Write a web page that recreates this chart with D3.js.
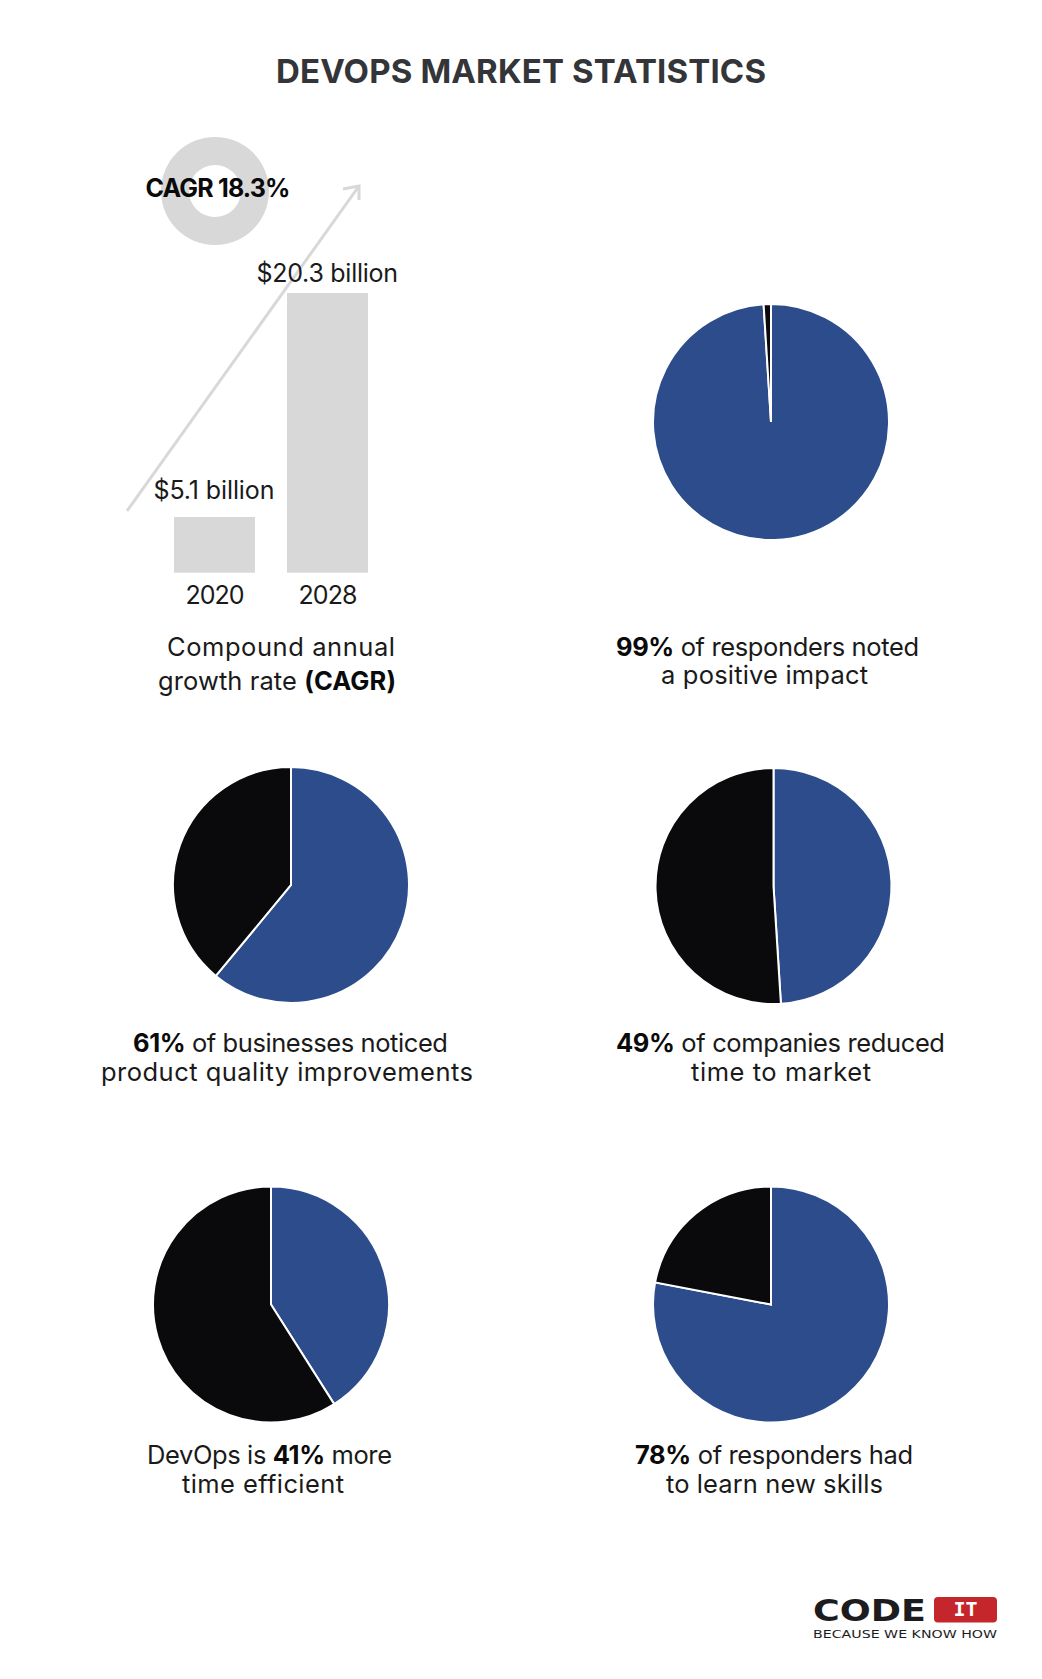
<!DOCTYPE html>
<html>
<head>
<meta charset="utf-8">
<script src="https://cdn.jsdelivr.net/npm/d3@7"></script>
<style>
  html, body { margin: 0; background: #fff; }
  text { font-family: Inter, "Open Sans", sans-serif; }
</style>
</head>
<body>
<div id="svg-container"></div>
<script>
// data
const titleText = "DEVOPS MARKET STATISTICS";
const years = ["2020", "2028"];
const marketValues = [5.1, 20.3];
const marketLabels = ["$5.1 billion", "$20.3 billion"];
const cagrLabel = "CAGR 18.3%";
const pieShares = [99, 61, 49, 41, 78];
const captionBold = ["99%", "61%", "49%", "41%", "78%"];
const pieColors = ["#2c4c8b", "#0a0a0c"];

// layout
const width = 1042, height = 1679;
const pieRadius = 118;
const pieCenters = [[771, 422], [291, 885], [773.5, 886], [271, 1304.5], [771, 1304.5]];

// caption lines: parts are [text, bold], x0-x1 = left/right edge, y = baseline
const captionLines = [
  { parts: [["Compound annual", 0]], x0: 167, x1: 395, y: 656 },
  { parts: [["growth rate ", 0], ["(CAGR)", 1]], x0: 158, x1: 396, y: 690 },
  { parts: [[captionBold[0], 1], [" of responders noted", 0]], x0: 616, x1: 919, y: 656 },
  { parts: [["a positive impact", 0]], x0: 661, x1: 868, y: 684 },
  { parts: [[captionBold[1], 1], [" of businesses noticed", 0]], x0: 133, x1: 448, y: 1052 },
  { parts: [["product quality improvements", 0]], x0: 101, x1: 473, y: 1081 },
  { parts: [[captionBold[2], 1], [" of companies reduced", 0]], x0: 616, x1: 945, y: 1052 },
  { parts: [["time to market", 0]], x0: 691, x1: 871, y: 1081 },
  { parts: [["DevOps is ", 0], [captionBold[3], 1], [" more", 0]], x0: 147, x1: 392, y: 1464 },
  { parts: [["time efficient", 0]], x0: 182, x1: 344, y: 1493 },
  { parts: [[captionBold[4], 1], [" of responders had", 0]], x0: 635, x1: 913, y: 1464 },
  { parts: [["to learn new skills", 0]], x0: 666, x1: 883, y: 1493 },
];

const svg = d3.select("#svg-container").append("svg")
  .attr("width", width)
  .attr("height", height)
  .style("display", "block");

// squeeze or spread a text so it runs from x0 to x1 like in the picture
function fitText(sel, target) {
  const w = sel.node().getComputedTextLength();
  const n = sel.text().length;
  sel.attr("letter-spacing", (target - w) / (n - 1));
}

// title
svg.append("text")
  .attr("x", 276)
  .attr("y", 82.5)
  .attr("font-size", 33)
  .attr("font-weight", 700)
  .attr("fill", "#333538")
  .text(titleText)
  .call(fitText, 490);

// bars
const xScale = d3.scaleBand().domain(years).range([174, 368]).paddingInner(0.283);
// the bars in the picture don't start at zero, 5.1 is drawn too short
const yScale = d3.scaleLinear().domain([1.32, 20.3]).range([572.7, 293]);

svg.selectAll(".bar")
  .data(years)
  .join("rect")
  .attr("class", "bar")
  .attr("x", (d) => xScale(d))
  .attr("y", (d, i) => yScale(marketValues[i]))
  .attr("width", xScale.bandwidth())
  .attr("height", (d, i) => yScale.range()[0] - yScale(marketValues[i]))
  .attr("fill", "#d8d8d8");

// year labels
const xAxis = d3.axisBottom(xScale).tickSize(0).tickPadding(0);
const xG = svg.append("g")
  .attr("transform", "translate(0, 603.5)")
  .call(xAxis);
xG.select(".domain").remove();
xG.selectAll("text")
  .attr("y", 0)
  .attr("dy", 0)
  .attr("font-size", 25)
  .attr("fill", "#1a1a1a")
  .attr("font-family", "Inter")
  .each(function () { d3.select(this).call(fitText, 59); });

// donut behind the cagr label
const donutArc = d3.arc().innerRadius(26).outerRadius(54).startAngle(0).endAngle(2 * Math.PI);
svg.append("path")
  .attr("transform", "translate(215, 191)")
  .attr("d", donutArc())
  .attr("fill", "#d8d8d8");

// arrow
const arrowLine = d3.line();
svg.append("path")
  .attr("d", arrowLine([[127, 511], [359, 186]]))
  .attr("fill", "none")
  .attr("stroke", "#d8d8d8")
  .attr("stroke-width", 3);
svg.append("path")
  .attr("d", arrowLine([[343, 189], [359, 186], [359, 200]]))
  .attr("fill", "none")
  .attr("stroke", "#d8d8d8")
  .attr("stroke-width", 3);

// value labels
const labelPos = [[153.5, 274.5, 499], [256.5, 398, 281.5]];
marketLabels.forEach((d, i) => {
  svg.append("text")
    .attr("x", labelPos[i][0])
    .attr("y", labelPos[i][2])
    .attr("font-size", 25)
    .attr("fill", "#1a1a1a")
    .text(d)
    .call(fitText, labelPos[i][1] - labelPos[i][0]);
});

svg.append("text")
  .attr("x", 145.5)
  .attr("y", 197)
  .attr("font-size", 25)
  .attr("font-weight", 700)
  .attr("fill", "#0a0a0a")
  .text(cagrLabel)
  .call(fitText, 145);

// pies
const pie = d3.pie().sort(null);
const arc = d3.arc().innerRadius(0).outerRadius(pieRadius);

pieShares.forEach((share, i) => {
  svg.append("g")
    .attr("transform", `translate(${pieCenters[i][0]}, ${pieCenters[i][1]})`)
    .selectAll("path")
    .data(pie([share, 100 - share]))
    .join("path")
    .attr("d", arc)
    .attr("fill", (d, j) => pieColors[j])
    .attr("stroke", "#fff")
    .attr("stroke-width", 2);
});

// captions
captionLines.forEach((line) => {
  const t = svg.append("text")
    .attr("x", line.x0)
    .attr("y", line.y)
    .attr("font-size", 25.5)
    .attr("fill", "#1a1a1a");
  line.parts.forEach((p) => {
    t.append("tspan")
      .attr("font-weight", p[1] ? 700 : 400)
      .attr("fill", p[1] ? "#0a0a0a" : "#1a1a1a")
      .text(p[0]);
  });
  fitText(t, line.x1 - line.x0);
});

// logo
const logo = svg.append("g");
logo.append("text")
  .attr("x", 813)
  .attr("y", 1621)
  .attr("font-size", 31)
  .attr("font-weight", 700)
  .attr("fill", "#1c1c1e")
  .attr("style", "font-family: 'DejaVu Sans'")
  .attr("textLength", 113)
  .attr("lengthAdjust", "spacingAndGlyphs")
  .text("CODE");
logo.append("rect")
  .attr("x", 934)
  .attr("y", 1597)
  .attr("width", 63)
  .attr("height", 25.5)
  .attr("rx", 4)
  .attr("fill", "#c4262b");
logo.append("text")
  .attr("x", 965.5)
  .attr("y", 1616)
  .attr("text-anchor", "middle")
  .attr("font-size", 20)
  .attr("font-weight", 700)
  .attr("fill", "#fff")
  .attr("style", "font-family: 'DejaVu Sans Mono'")
  .text("IT");
logo.append("text")
  .attr("x", 813)
  .attr("y", 1638)
  .attr("font-size", 10.5)
  .attr("fill", "#1c1c1e")
  .attr("style", "font-family: 'DejaVu Sans'")
  .attr("textLength", 184)
  .attr("lengthAdjust", "spacingAndGlyphs")
  .text("BECAUSE WE KNOW HOW");
</script>
</body>
</html>
